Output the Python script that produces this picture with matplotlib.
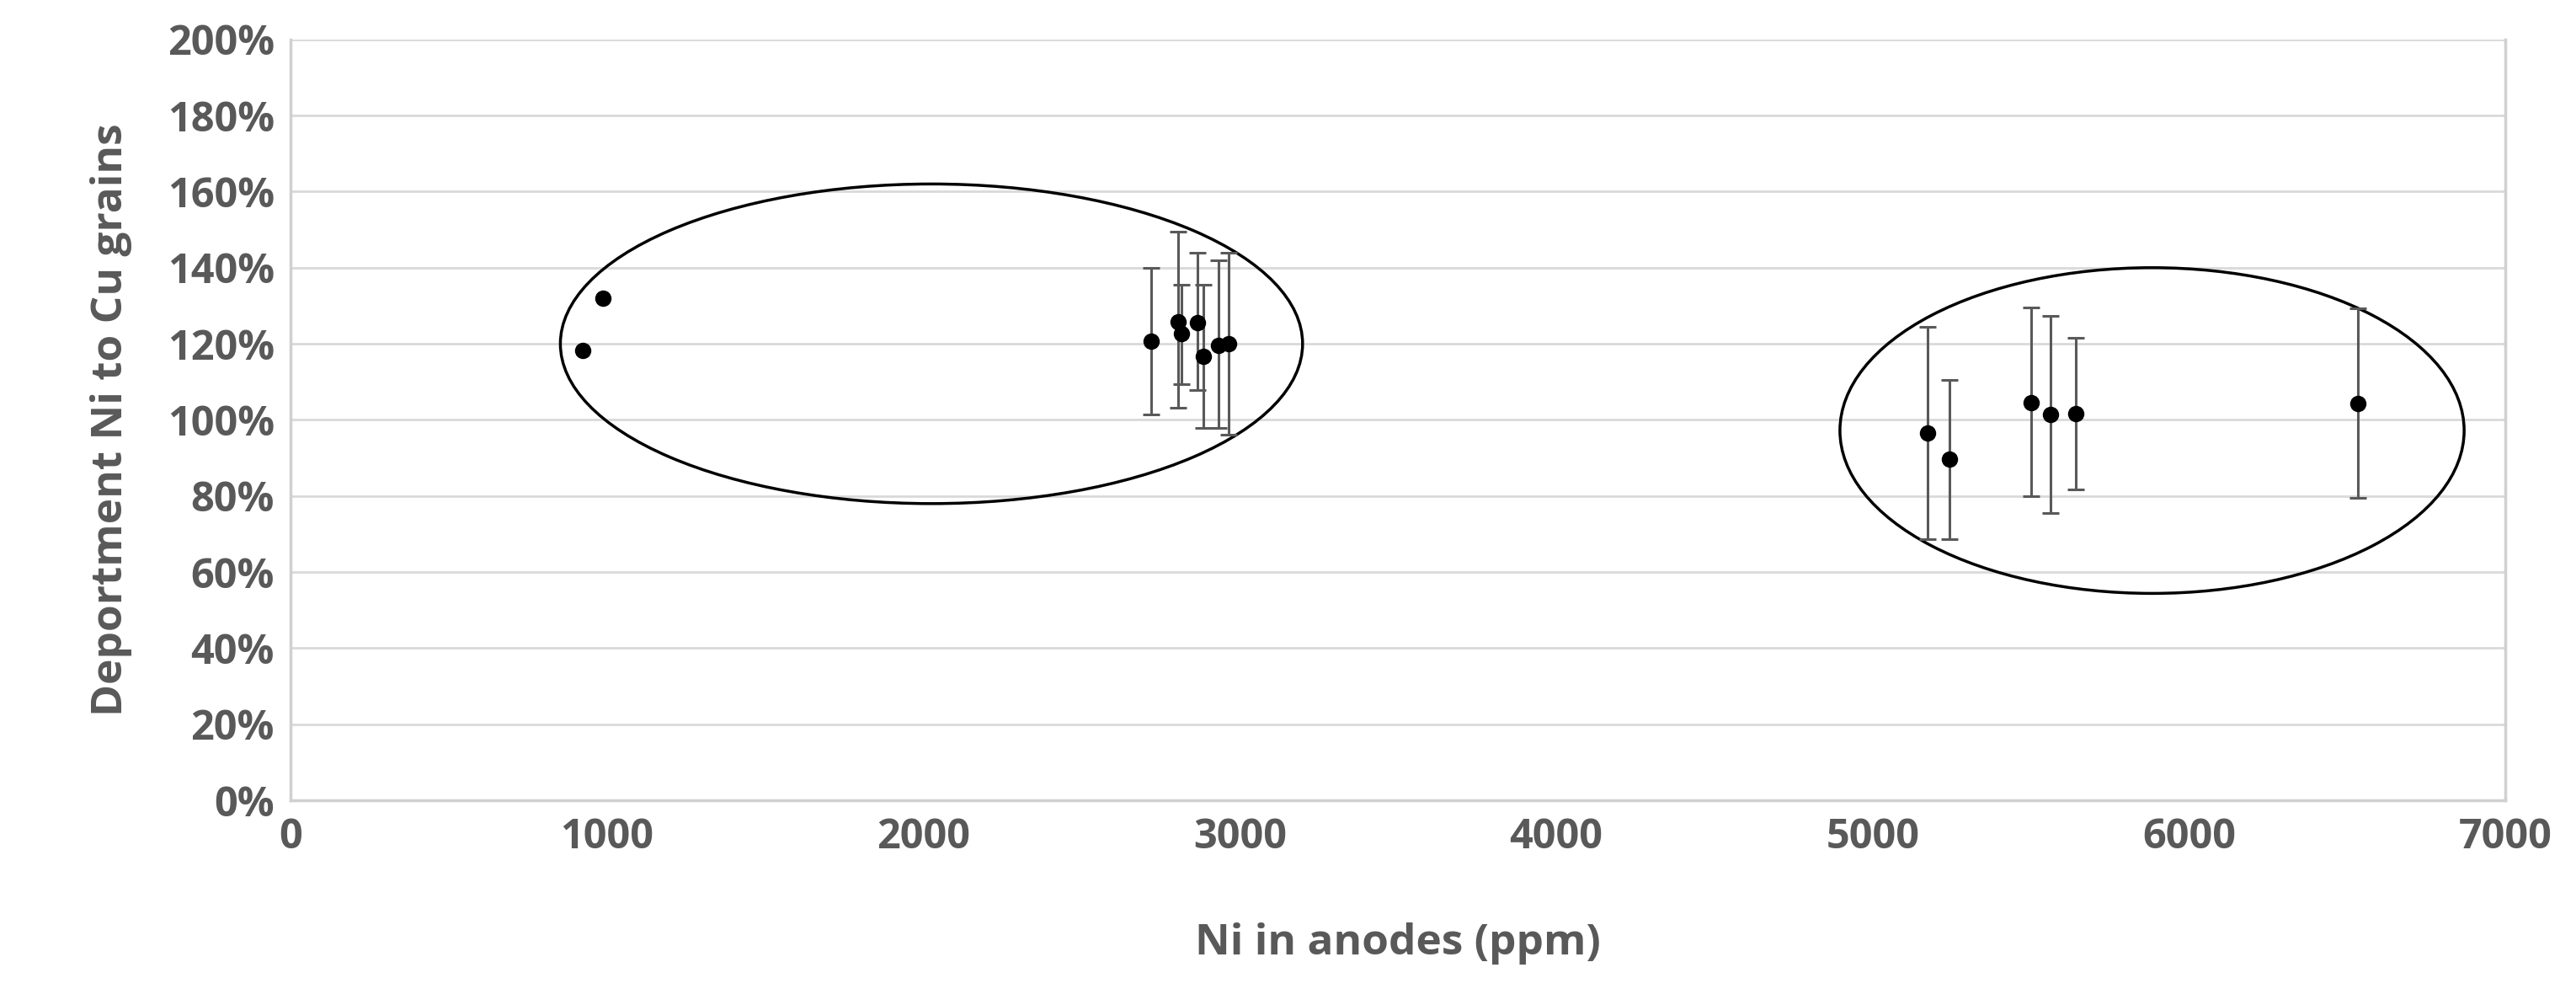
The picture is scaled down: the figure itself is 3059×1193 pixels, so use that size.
import matplotlib
matplotlib.use("Agg")
import matplotlib.pyplot as plt
from matplotlib.patches import Ellipse
from matplotlib.ticker import FuncFormatter

ni_ppm = [924, 987, 2719, 2804, 2814, 2866, 2885, 2933, 2964,
          5174, 5242, 5500, 5561, 5642, 6534]
deportment = [118.2, 132.0, 120.6, 125.8, 122.7, 125.6, 116.7, 119.6, 120.0,
              96.5, 89.7, 104.6, 101.4, 101.6, 104.2]
err_upper = [None, None, 140.0, 149.4, 135.6, 144.0, 135.6, 142.0, 144.0,
             124.5, 110.6, 129.5, 127.4, 121.5, 129.3]
err_lower = [None, None, 101.5, 103.2, 109.4, 107.8, 97.9, 97.9, 96.2,
             68.6, 68.6, 79.9, 75.5, 81.8, 79.4]
# ellipses: center x, center y, width, height (data units)
ellipses = [(2025, 120, 2346, 84), (5883, 97.2, 1973, 85.6)]

plt.rcParams['font.family'] = ['Open Sans', 'DejaVu Sans']
grey = '#595959'
fig = plt.figure(figsize=(30.59, 11.93), dpi=100)
ax = fig.add_axes([0.1129, 0.2036, 0.8597, 0.7572])

for x, y, up, lo in zip(ni_ppm, deportment, err_upper, err_lower):
    if up is not None:
        ax.errorbar([x], [y], yerr=[[y - lo], [up - y]], fmt='none',
                    ecolor=grey, elinewidth=2.2, capsize=7, capthick=2.2, zorder=3)
ax.plot(ni_ppm, deportment, 'o', color='black', markersize=13, zorder=4)

for cx, cy, w, h in ellipses:
    ax.add_patch(Ellipse((cx, cy), w, h, fill=False, edgecolor='black', lw=2.5, zorder=2))

ax.set_xlim(0, 7000)
ax.set_ylim(0, 200)
ax.set_xticks(range(0, 7001, 1000))
ax.set_yticks(range(0, 201, 20))
ax.yaxis.set_major_formatter(FuncFormatter(lambda v, p: f"{int(v)}%"))
ax.grid(axis='y', color='#d9d9d9', lw=2)
ax.set_axisbelow(True)
for s in ['left', 'bottom', 'right']:
    ax.spines[s].set_color('#d0d0d0'); ax.spines[s].set_linewidth(2.5)
ax.spines['top'].set_visible(False)
ax.tick_params(length=0, labelsize=35, labelcolor=grey, pad=14)
for lab in ax.get_xticklabels() + ax.get_yticklabels():
    lab.set_fontweight('bold')
ax.set_xlabel('Ni in anodes (ppm)', fontsize=37, fontweight='bold', color=grey, labelpad=55)
ax.set_ylabel('Deportment Ni to Cu grains', fontsize=37, fontweight='bold', color=grey, labelpad=30)

fig.savefig('out.png', dpi=100)
